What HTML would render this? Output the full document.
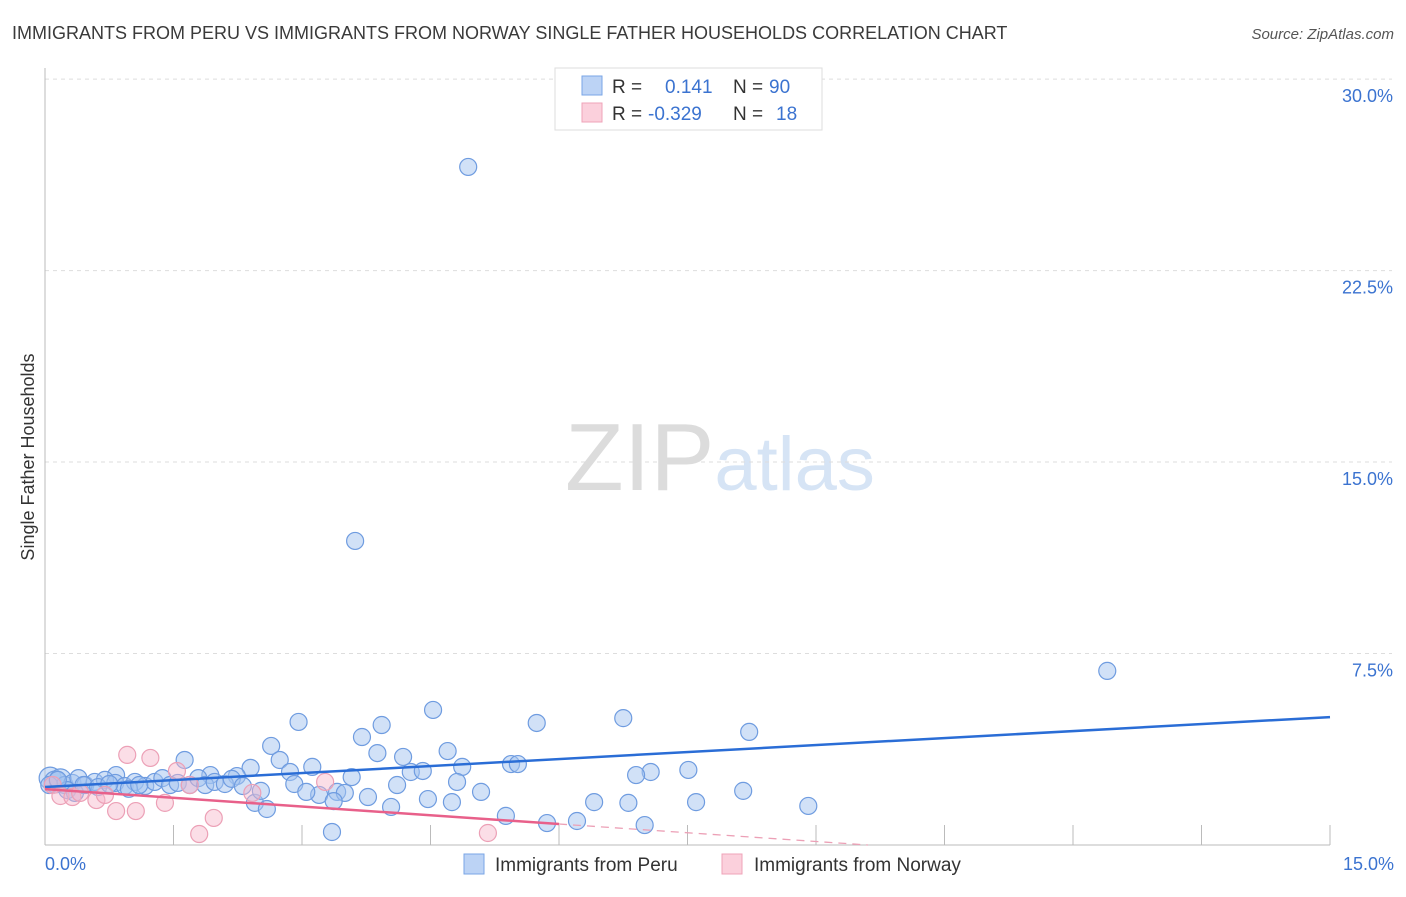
<!DOCTYPE html>
<html><head><meta charset="utf-8"><style>
body{margin:0;background:#fff;font-family:"Liberation Sans",sans-serif;}
svg text{font-family:"Liberation Sans",sans-serif;}
</style></head><body>
<svg id="chart" width="1406" height="892" viewBox="0 0 1406 892" xmlns="http://www.w3.org/2000/svg">
<text x="12" y="39" font-size="18" fill="#3a3a3a">IMMIGRANTS FROM PERU VS IMMIGRANTS FROM NORWAY SINGLE FATHER HOUSEHOLDS CORRELATION CHART</text>
<text x="1394" y="39" font-size="15" fill="#555" text-anchor="end" font-style="italic">Source: ZipAtlas.com</text>
<text transform="translate(34,457) rotate(-90)" font-size="18" fill="#333" text-anchor="middle">Single Father Households</text>
<text x="720" y="490" font-size="96" text-anchor="middle" fill="#e4e4e4" font-family="Liberation Serif, serif"><tspan fill="#dcdcdc">ZIP</tspan><tspan fill="#d6e4f5" font-family="Liberation Sans, sans-serif" font-size="76">atlas</tspan></text>
<g id="grid"></g>
<g id="axes"></g>
<g id="marks"></g>
<g>
<rect x="555" y="68" width="267" height="62" fill="#fff" stroke="#ddd"/>
<rect x="582" y="76" width="20" height="19" fill="#bcd3f5" stroke="#7aa6e6"/>
<rect x="582" y="103" width="20" height="19" fill="#fbd0dc" stroke="#efa3b8"/>
<text x="612" y="93" font-size="19" fill="#333">R = </text><text x="665" y="93" font-size="19" fill="#3b73d0">0.141</text>
<text x="733" y="93" font-size="19" fill="#333">N = </text><text x="769" y="93" font-size="19" fill="#3b73d0">90</text>
<text x="612" y="120" font-size="19" fill="#333">R = </text><text x="648" y="120" font-size="19" fill="#3b73d0">-0.329</text>
<text x="733" y="120" font-size="19" fill="#333">N = </text><text x="776" y="120" font-size="19" fill="#3b73d0">18</text>
</g>
<g>
<rect x="464" y="854" width="20" height="20" fill="#bcd3f5" stroke="#7aa6e6"/>
<text x="495" y="871" font-size="19" fill="#333">Immigrants from Peru</text>
<rect x="722" y="854" width="20" height="20" fill="#fbd0dc" stroke="#efa3b8"/>
<text x="754" y="871" font-size="19" fill="#333">Immigrants from Norway</text>
</g>
</svg>
<script>
const yTicks=[7.5,15,22.5,30];
const yTickLabels=["7.5%","15.0%","22.5%","30.0%"];
const xTickLabels=["0.0%","15.0%"];
const peruX=[4.94,3.62,12.40,2.96,4.53,3.93,5.74,6.75,8.22,3.70,2.64,1.63,4.70,3.88,4.18,2.74,3.12,2.86,2.40,5.44,5.52,4.87,7.51,7.07,6.90,4.27,4.41,3.58,2.24,1.93,0.83,4.81,4.11,2.91,8.15,5.09,3.41,3.50,3.20,3.05,3.77,4.47,4.75,6.41,6.81,7.60,8.91,3.37,4.04,2.45,2.59,5.38,6.21,5.86,7.00,3.35,2.52,
0.06,0.12,0.18,0.23,0.32,0.39,0.47,0.58,0.70,0.82,0.93,1.05,1.17,1.28,1.37,1.46,1.55,1.69,1.79,1.87,1.98,2.10,2.18,2.31,0.26,0.35,0.05,0.15,0.45,0.62,0.75,0.98,1.10];
const peruY=[26.56,11.91,6.82,4.82,5.29,4.70,4.78,4.97,4.43,4.23,3.88,3.33,3.68,3.60,3.45,3.33,3.06,2.86,3.02,3.17,3.17,3.06,2.94,2.86,2.74,2.86,2.90,2.66,2.70,2.74,2.74,2.47,2.35,2.39,2.12,2.08,2.08,2.04,1.96,2.08,1.88,1.80,1.68,1.68,1.65,1.68,1.53,1.72,1.49,1.65,1.41,1.14,0.94,0.86,0.78,0.51,2.12,
2.62,2.47,2.55,2.35,2.43,2.62,2.35,2.47,2.55,2.43,2.31,2.47,2.31,2.47,2.62,2.35,2.43,2.35,2.62,2.35,2.47,2.39,2.59,2.31,2.15,2.04,2.35,2.55,2.35,2.27,2.39,2.20,2.35];
const norwayX=[0.96,1.23,0.09,0.18,0.32,0.41,0.60,0.70,0.83,1.06,1.40,1.54,1.69,1.80,1.97,2.42,3.27,5.17];
const norwayY=[3.53,3.41,2.35,1.92,1.88,2.04,1.76,1.96,1.33,1.33,1.65,2.90,2.35,0.43,1.06,2.04,2.47,0.47];
const peruTrend=[2.27,5.01];
const norwayTrend=[2.19,-0.228];
const NS="http://www.w3.org/2000/svg";
const X0=45,X1=1330,Y0=845,PX_PER_Y=25.53;
const sx=v=>X0+(X1-X0)*v/15;
const sy=v=>Y0-v*PX_PER_Y;
function mk(tag,attrs,parent){const e=document.createElementNS(NS,tag);for(const k in attrs)e.setAttribute(k,attrs[k]);parent.appendChild(e);return e;}
const grid=document.getElementById('grid'),axes=document.getElementById('axes'),marks=document.getElementById('marks');
yTicks.forEach((t,i)=>{
 const l=mk('line',{x1:X0,x2:1392,y1:sy(t),y2:sy(t),stroke:'#ddd','stroke-dasharray':'4,4'},grid);
 
 
 const tx=mk('text',{x:1393,y:sy(t)+23,'font-size':18,fill:'#3b73d0','text-anchor':'end'},axes);
 tx.textContent=yTickLabels[i];
 
 
});
const ya=mk('line',{x1:X0,x2:X0,y1:68,y2:Y0,stroke:'#bbb'},axes);


const xa=mk('line',{x1:X0,x2:X1,y1:Y0,y2:Y0,stroke:'#bbb'},axes);


for(let i=1;i<=10;i++){
 const v=i*1.5;
 const t=mk('line',{x1:sx(v),x2:sx(v),y1:Y0,y2:Y0-(i%2===0?20:20),stroke:'#bbb'},axes);
 
 
}
[[0,'start',45],[15,'end',1394]].forEach((d,i)=>{
 const tx=mk('text',{x:d[2],y:870,'font-size':18,fill:'#3b73d0','text-anchor':d[1]},axes);
 tx.textContent=xTickLabels[i];
 
 
});
peruX.forEach((x,i)=>{
 const c=mk('circle',{cx:sx(x),cy:sy(peruY[i]),r:(i>=57&&i<60)?11:8.5,fill:'rgba(164,196,240,0.5)',stroke:'#6f9ce0','stroke-width':1.2},marks);
 
 
});
norwayX.forEach((x,i)=>{
 const c=mk('circle',{cx:sx(x),cy:sy(norwayY[i]),r:8.5,fill:'rgba(247,182,202,0.45)',stroke:'#eca0b6','stroke-width':1.2},marks);
 
 
});
const pl=mk('line',{x1:sx(0),y1:sy(peruTrend[0]),x2:sx(15),y2:sy(peruTrend[1]),stroke:'#2a6dd6','stroke-width':2.5},marks);


const nEnd=6.0;
const nl=mk('line',{x1:sx(0),y1:sy(norwayTrend[0]),x2:sx(nEnd),y2:sy(norwayTrend[0]+norwayTrend[1]*nEnd),stroke:'#e8608a','stroke-width':2.5},marks);


const zeroX=-norwayTrend[0]/norwayTrend[1];
const nd=mk('line',{x1:sx(nEnd),y1:sy(norwayTrend[0]+norwayTrend[1]*nEnd),x2:sx(zeroX),y2:sy(0),stroke:'#eca0b6','stroke-width':1.3,'stroke-dasharray':'8,6'},marks);


</script>
</body></html>
